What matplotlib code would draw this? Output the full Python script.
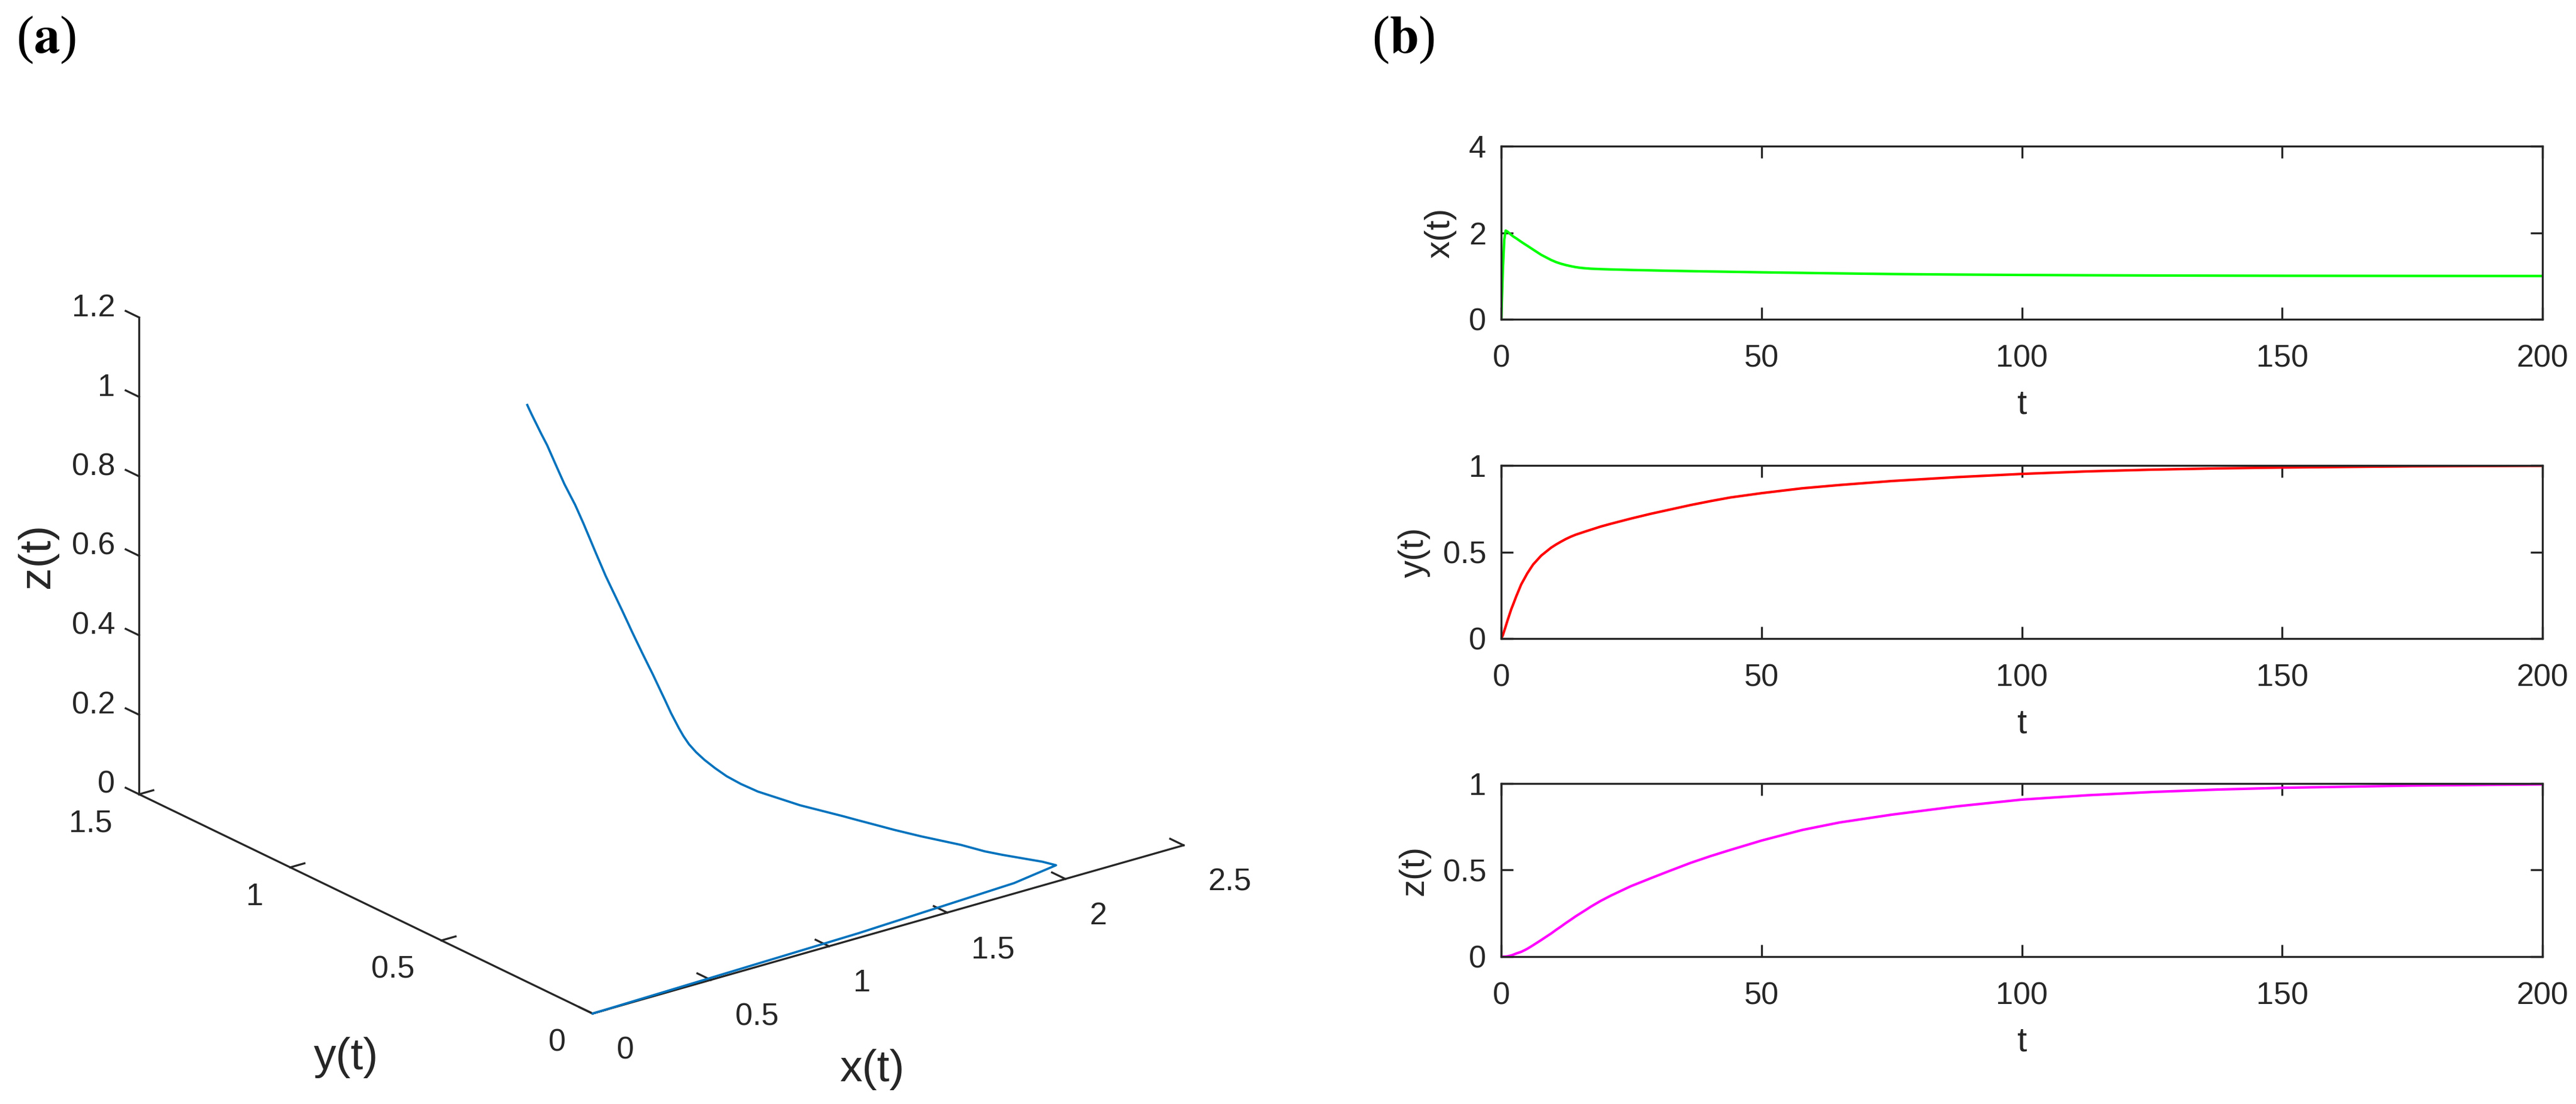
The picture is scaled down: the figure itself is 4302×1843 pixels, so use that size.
import numpy as np
import matplotlib
matplotlib.use('Agg')
import matplotlib.pyplot as plt
from matplotlib.ticker import FormatStrFormatter

# values (time series of the three states)
t = [0, 0.3, 0.57, 0.84, 1.15, 1.91, 2.3, 2.87, 3.83, 4.6, 4.98, 5.74, 6.12,
     7.66, 9.57, 10.5, 11.48, 12.4, 13.4, 14.3, 15.3, 16.3, 17.23, 19.1,
     21.05, 24.88, 28.71, 32.54, 36.37, 40.19, 44.02, 50, 57.8, 65, 75, 87.5,
     100, 112.5, 125, 137.5, 150, 175, 200]
x_t = [0, 1.15, 1.84, 2.05, 2.03, 1.95, 1.913, 1.87, 1.79, 1.729, 1.70, 1.64,
       1.61, 1.49, 1.37, 1.322, 1.283, 1.253, 1.226, 1.205, 1.188, 1.177,
       1.169, 1.159, 1.152, 1.14, 1.13, 1.12, 1.112, 1.104, 1.097, 1.085,
       1.072, 1.06, 1.045, 1.033, 1.024, 1.017, 1.012, 1.008, 1.005, 1.002,
       1.0]
y_t = [0, 0.02, 0.045, 0.07, 0.10, 0.169, 0.199, 0.244, 0.313, 0.355, 0.376,
       0.411, 0.428, 0.479, 0.525, 0.543, 0.56, 0.575, 0.589, 0.60, 0.61,
       0.62, 0.629, 0.647, 0.663, 0.693, 0.7207, 0.746, 0.7713, 0.794, 0.815,
       0.84, 0.868, 0.887, 0.91, 0.9325, 0.951, 0.9655, 0.9757, 0.983, 0.988,
       0.995, 0.998]
z_t = [0, 0, 0, 0.0003, 0.0015, 0.0069, 0.011, 0.018, 0.0276, 0.039, 0.045,
       0.0588, 0.066, 0.0956, 0.1336, 0.154, 0.174, 0.194, 0.2143, 0.233,
       0.252, 0.271, 0.2892, 0.322, 0.3525, 0.4067, 0.4528, 0.4977, 0.5415,
       0.5806, 0.6164, 0.6705, 0.7316, 0.775, 0.82, 0.868, 0.907, 0.932,
       0.951, 0.965, 0.975, 0.988, 0.995]

t_ticks = [0, 50, 100, 150, 200]
xb_ticks = [0, 2, 4]
yzb_ticks = [0, 0.5, 1]
x3_ticks = [0, 0.5, 1, 1.5, 2, 2.5]
y3_ticks = [0, 0.5, 1, 1.5]
z3_ticks = [0, 0.2, 0.4, 0.6, 0.8, 1, 1.2]

TXT = '#262626'
plt.rcParams['font.family'] = ['Liberation Sans', 'DejaVu Sans']
plt.rcParams['mathtext.fontset'] = 'stix'

fig = plt.figure(figsize=(4302 / 300, 1843 / 300), dpi=300)

# ---- (a) 3D trajectory
ax3 = fig.add_axes([0.02087, -0.07716, 0.45932, 1.07216], projection='3d')
ax3.set_proj_type('ortho')
ax3.view_init(elev=21.77, azim=-127.5)
ax3.set_box_aspect((1, 1, 0.689), zoom=0.9615)
ax3.plot(x_t, y_t, z_t, color='#0072BD', lw=0.9)
ax3.set_xlim(0, 2.5)
ax3.set_ylim(0, 1.5)
ax3.set_zlim(0, 1.2)
ax3.set_xticks(x3_ticks)
ax3.set_yticks(y3_ticks)
ax3.set_zticks(z3_ticks)
ax3.grid(False)

# z ticks point along y, like the MATLAB box
ax3.zaxis._AXINFO = {
    'x': {'i': 0, 'tickdir': 1, 'juggled': (1, 0, 2)},
    'y': {'i': 1, 'tickdir': 0, 'juggled': (0, 1, 2)},
    'z': {'i': 2, 'tickdir': 1, 'juggled': (0, 2, 1)},
}
tick_out = {'x': 0.37, 'y': 0.30, 'z': 0.37}
for name, axis in (('x', ax3.xaxis), ('y', ax3.yaxis), ('z', ax3.zaxis)):
    axis.set_pane_color((1, 1, 1, 0))
    axis.line.set_color(TXT)
    axis.line.set_linewidth(0.8)
    axis.set_major_formatter(FormatStrFormatter('%g'))
    axis._axinfo['tick']['inward_factor'] = 0.0
    axis._axinfo['tick']['outward_factor'] = tick_out[name]
    axis._axinfo['tick']['linewidth'] = {True: 0.8, False: 0.5}
    axis._axinfo['tick']['color'] = TXT

ax3.tick_params(axis='x', colors=TXT, labelsize=12.5, pad=5.2)
ax3.tick_params(axis='y', colors=TXT, labelsize=12.5, pad=3.3)
ax3.tick_params(axis='z', colors=TXT, labelsize=12.5, pad=-2.3)
plt.setp(ax3.get_xticklabels(), ha='left', va='center')
plt.setp(ax3.get_yticklabels(), ha='right', va='center')
plt.setp(ax3.get_zticklabels(), ha='right', va='baseline')

fig.text(1456 / 4302, 1 - 1785 / 1843, 'x(t)', fontsize=18, color=TXT,
         ha='center', va='center')
fig.text(578 / 4302, 1 - 1765 / 1843, 'y(t)', fontsize=18, color=TXT,
         ha='center', va='center')
fig.text(62 / 4302, 1 - 928 / 1843, 'z(t)', fontsize=18, color=TXT,
         ha='center', va='center', rotation=90)

# ---- (b) time series
rows = [
    (x_t, '#00FF00', 'x(t)', (0, 4), xb_ticks, 0.7108),
    (y_t, '#FF0000', 'y(t)', (0, 1), yzb_ticks, 0.4216),
    (z_t, '#FF00FF', 'z(t)', (0, 1), yzb_ticks, 0.1335),
]
for series, col, lab, lim, ticks, bottom in rows:
    ax = fig.add_axes([0.5828, bottom, 0.4042, 0.1568])
    ax.plot(t, series, color=col, lw=1.0)
    ax.set_xlim(0, 200)
    ax.set_ylim(*lim)
    ax.set_xticks(t_ticks)
    ax.set_yticks(ticks)
    ax.yaxis.set_major_formatter(FormatStrFormatter('%g'))
    ax.tick_params(direction='in', length=4.8, width=0.8, top=True, right=True,
                   labelsize=12.5, colors=TXT)
    ax.tick_params(axis='x', pad=10)
    ax.tick_params(axis='y', pad=6)
    for s in ax.spines.values():
        s.set_linewidth(0.8)
        s.set_color(TXT)
    ax.set_xlabel('t', fontsize=14, color=TXT, labelpad=6)
    ax.set_ylabel(lab, fontsize=14, color=TXT, labelpad=5)

fig.text(27 / 4302, 1 - 88 / 1843, r'($\mathbf{a}$)', fontsize=21,
         family='Liberation Serif', va='baseline')
fig.text(2291 / 4302, 1 - 88 / 1843, r'($\mathbf{b}$)', fontsize=21,
         family='Liberation Serif', va='baseline')

fig.savefig('out.png', dpi=300)
